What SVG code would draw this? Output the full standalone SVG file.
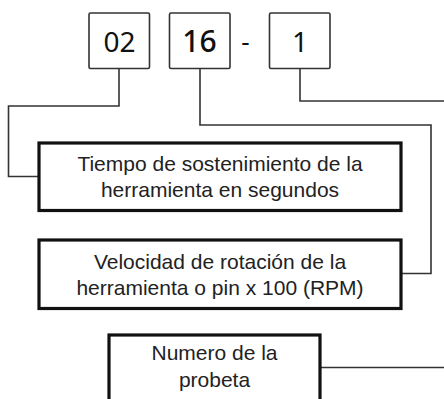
<svg xmlns="http://www.w3.org/2000/svg" width="444" height="399" viewBox="0 0 444 399">
<style>
.code{fill:#fff;stroke:#333;stroke-width:1.6}
.box{fill:#fff;stroke:#111;stroke-width:3.2}
.conn{fill:none;stroke:#333;stroke-width:1.6}
.t{font-family:"Liberation Sans",Arial,sans-serif;font-size:21px;fill:#222;text-anchor:middle}
.c{font-family:"Noto Sans","Open Sans",sans-serif;fill:#111;text-anchor:middle}
</style>
<rect width="444" height="399" fill="#fff"/>
<g id="connectors">
<polyline class="conn" points="119,69 119,106 8.5,106 8.5,176.5 39,176.5"/>
<polyline class="conn" points="200,69 200,125 431,125 431,273.5 401,273.5"/>
<polyline class="conn" points="300,69 300,101 444,101"/>
<polyline class="conn" points="320,367.5 444,367.5"/>
</g>
<g id="code02">
<rect class="code" x="89" y="13" width="60.5" height="55.5" rx="1.5"/>
<text class="c" x="119.5" y="52" font-size="28">02</text>
</g>
<g id="code16">
<rect class="code" x="169.5" y="13" width="60.5" height="55.5" rx="1.5"/>
<text class="c" x="199.5" y="52" font-size="30" font-weight="500">16</text>
</g>
<g id="dash">
<text class="c" x="245.5" y="51" font-size="26">-</text>
</g>
<g id="code1">
<rect class="code" x="269.5" y="13" width="60.5" height="55.5" rx="1.5"/>
<text class="c" x="300" y="52" font-size="28">1</text>
</g>
<g id="box-tiempo">
<rect class="box" x="39" y="143" width="362" height="67.5"/>
<text class="t" x="220" y="171">Tiempo de sostenimiento de la</text>
<text class="t" x="220" y="197">herramienta en segundos</text>
</g>
<g id="box-velocidad">
<rect class="box" x="39" y="240" width="362" height="68.5"/>
<text class="t" x="220" y="268.5">Velocidad de rotación de la</text>
<text class="t" x="220" y="295">herramienta o pin x 100 (RPM)</text>
</g>
<g id="box-numero">
<rect class="box" x="109" y="335" width="211" height="80"/>
<text class="t" x="214.5" y="360">Numero de la</text>
<text class="t" x="214.5" y="386.5">probeta</text>
</g>
</svg>
